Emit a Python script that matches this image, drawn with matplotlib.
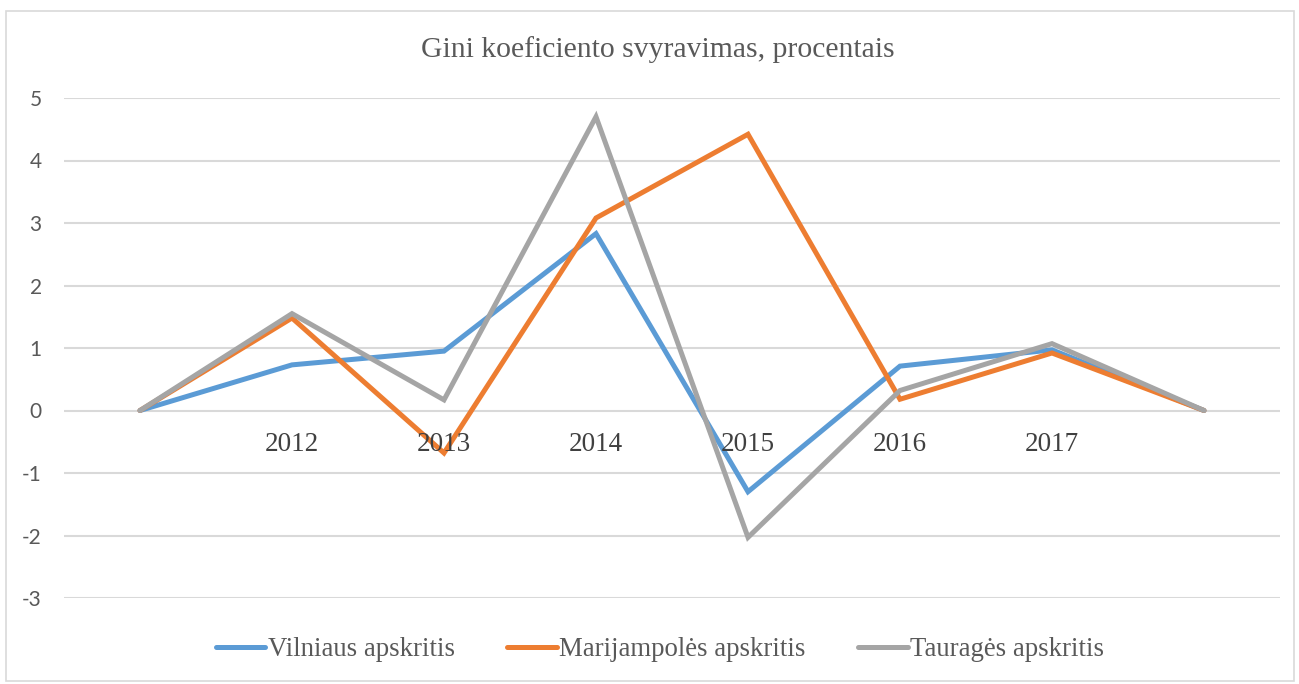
import matplotlib
matplotlib.use("Agg")
import matplotlib.pyplot as plt
from matplotlib.patches import Rectangle

categories = ["", "2012", "2013", "2014", "2015", "2016", "2017", ""]
vilnius = [0, 0.73, 0.95, 2.83, -1.30, 0.71, 0.97, 0]
marijampole = [0, 1.48, -0.68, 3.08, 4.42, 0.18, 0.92, 0]
taurage = [0, 1.55, 0.17, 4.70, -2.03, 0.32, 1.07, 0]
series_names = ["Vilniaus apskritis", "Marijampolės apskritis", "Tauragės apskritis"]
colors = ["#5B9BD5", "#ED7D31", "#A5A5A5"]
title = "Gini koeficiento svyravimas, procentais"

fig = plt.figure(figsize=(12.99, 6.84), dpi=100)
ax = fig.add_axes([64/1299, 1-598/684, (1280-64)/1299, (598-98)/684])

x = list(range(len(categories)))
for vals, name, c in zip([vilnius, marijampole, taurage], series_names, colors):
    ax.plot(x, vals, color=c, lw=3.6, label=name, solid_joinstyle="miter", solid_capstyle="round")

ax.set_xlim(-0.5, len(categories) - 0.5)
ax.set_ylim(-3, 5)
ax.set_yticks(range(-3, 6))
ax.set_yticklabels([str(v) for v in range(-3, 6)], fontfamily="Lato", fontsize=15, color="#595959")
ax.yaxis.grid(True, color="#D9D9D9", lw=1.5)
ax.set_axisbelow(True)
ax.tick_params(axis="y", length=0, pad=16)
ax.tick_params(axis="x", length=0)
ax.set_xticks([])
for s in ax.spines.values():
    s.set_visible(False)

for i, lab in enumerate(categories):
    if lab:
        ax.annotate(lab, (i, 0), xytext=(0, -34), textcoords="offset pixels",
                    ha="center", va="center", fontfamily="Liberation Serif",
                    fontsize=19.5, color="#404040")

fig.text(658/1299, 1-50/684, title, ha="center", va="center", fontfamily="Liberation Serif",
         fontsize=21.3, color="#595959")

leg = fig.legend(loc="center", bbox_to_anchor=(660/1299, 1-650/684), ncol=3, frameon=False,
                 prop={"family": "Liberation Serif", "size": 19.3}, handlelength=1.85,
                 handletextpad=0.1, columnspacing=1.95)
for t in leg.get_texts():
    t.set_color("#595959")

fig.patches.append(Rectangle((6/1299, 1-681/684), 1288/1299, 670/684, transform=fig.transFigure,
                             fill=False, edgecolor="#D9D9D9", lw=1.2))

fig.savefig("out.png", dpi=100)
